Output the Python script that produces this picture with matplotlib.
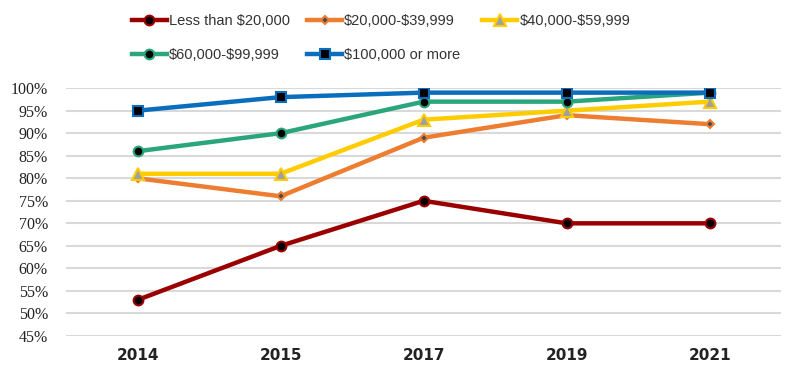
import matplotlib
matplotlib.use("Agg")
import matplotlib.pyplot as plt

years = ["2014", "2015", "2017", "2019", "2021"]

less_20k = [53, 65, 75, 70, 70]
k20_40 = [80, 76, 89, 94, 92]
k40_60 = [81, 81, 93, 95, 97]
k60_100 = [86, 90, 97, 97, 99]
k100_plus = [95, 98, 99, 99, 99]

series = [
    (r"Less than \$20,000", less_20k, "#9B0000", "o", "black", 7),
    (r"\$20,000-\$39,999", k20_40, "#ED7D31", "D", "#4a4a4a", 4.5),
    (r"\$40,000-\$59,999", k40_60, "#FFCC00", "^", "#a0a0a0", 8),
    (r"\$60,000-\$99,999", k60_100, "#2BA57C", "o", "black", 7),
    (r"\$100,000 or more", k100_plus, "#0A6EBD", "s", "black", 7),
]

fig = plt.figure(figsize=(8, 3.75), dpi=100)
ax = fig.add_axes([0.0825, 0.104, 0.894, 0.661])

x = list(range(len(years)))
handles = []
for label, vals, color, marker, face, ms in series:
    h, = ax.plot(x, vals, color=color, lw=3.2, marker=marker, markersize=ms,
                 markerfacecolor=face, markeredgecolor=color, markeredgewidth=1.5,
                 label=label, zorder=3)
    handles.append(h)

ax.set_xlim(-0.5, len(years) - 0.5)
ax.set_ylim(45, 100)
ax.set_yticks(range(45, 101, 5))
ax.set_yticklabels([f"{v}%" for v in range(45, 101, 5)],
                   fontsize=11.5, family="Liberation Serif", color="#222222")
ax.set_xticks(x)
ax.set_xticklabels(years, fontsize=11, fontweight="bold", family="DejaVu Sans",
                   color="#222222")
ax.yaxis.grid(True, color="#d9d9d9", lw=1.5)
ax.set_axisbelow(True)
for s in ax.spines.values():
    s.set_visible(False)
ax.tick_params(length=0)
ax.tick_params(axis="x", pad=9)
ax.tick_params(axis="y", pad=13)

# one legend per column so the columns line up with the reference
columns = [(0.152, [0, 3]), (0.371, [1, 4]), (0.590, [2])]
for xpos, idx in columns:
    leg = fig.legend([handles[i] for i in idx], [series[i][0] for i in idx],
                     loc="upper left", bbox_to_anchor=(xpos, 0.99),
                     frameon=False, handlelength=2.4, handletextpad=0.15,
                     labelspacing=1.35, borderaxespad=0.3,
                     prop={"family": "Liberation Sans", "size": 10.5})
    for t in leg.get_texts():
        t.set_color("#333333")

fig.savefig("out.png", dpi=100)
